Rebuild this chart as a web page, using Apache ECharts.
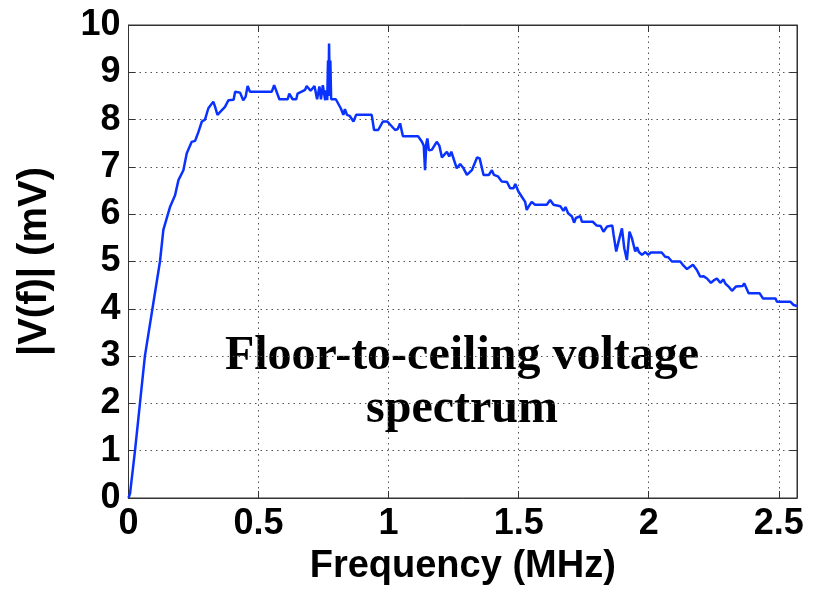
<!DOCTYPE html>
<html>
<head>
<meta charset="utf-8">
<script src="https://cdn.jsdelivr.net/npm/echarts@6/dist/echarts.min.js"></script>
<style>
html,body{margin:0;padding:0;background:#fff;}
#chart{width:825px;height:592px;}
</style>
</head>
<body>
<div id="chart"></div>
<script>
// Frequency (MHz)
const freq = [0,0.006,0.025,0.044,0.063,0.092,0.121,0.134,0.16,0.179,0.192,0.211,0.224,0.243,0.256,0.269,0.282,0.294,0.307,0.326,0.333,0.342,0.359,0.371,0.384,0.404,0.41,0.429,0.441,0.45,0.458,0.467,0.551,0.56,0.567,0.58,0.612,0.618,0.631,0.645,0.65,0.679,0.685,0.70,0.715,0.725,0.734,0.74,0.747,0.756,0.760,0.764,0.767,0.769,0.771,0.774,0.776,0.779,0.797,0.816,0.826,0.832,0.84,0.85,0.865,0.875,0.935,0.944,0.96,0.978,0.995,1.025,1.035,1.044,1.055,1.113,1.128,1.135,1.14,1.145,1.149,1.155,1.166,1.185,1.195,1.205,1.224,1.233,1.241,1.262,1.275,1.288,1.301,1.32,1.34,1.35,1.365,1.385,1.397,1.405,1.42,1.435,1.455,1.467,1.48,1.487,1.499,1.512,1.525,1.531,1.538,1.55,1.557,1.563,1.608,1.621,1.634,1.66,1.672,1.68,1.69,1.705,1.713,1.72,1.737,1.743,1.785,1.80,1.815,1.826,1.84,1.86,1.865,1.875,1.884,1.897,1.906,1.916,1.926,1.935,1.948,1.955,1.962,1.974,1.987,1.998,2.008,2.05,2.063,2.075,2.089,2.121,2.131,2.147,2.17,2.185,2.198,2.21,2.224,2.239,2.25,2.262,2.275,2.287,2.295,2.307,2.32,2.335,2.361,2.367,2.384,2.426,2.439,2.487,2.493,2.544,2.557,2.57];
// |V(f)| (mV)
const volt = [0,0.1,1.0,2.0,3.0,4.0,5.0,5.67,6.16,6.4,6.72,6.93,7.29,7.53,7.55,7.74,7.96,8.0,8.24,8.38,8.27,8.10,8.2,8.27,8.41,8.42,8.59,8.57,8.41,8.48,8.71,8.59,8.59,8.73,8.70,8.43,8.43,8.55,8.43,8.43,8.55,8.63,8.71,8.61,8.71,8.43,8.70,8.43,8.73,8.41,8.62,8.41,9.25,8.5,9.61,8.6,9.25,8.43,8.43,8.24,8.10,8.22,8.10,8.08,7.96,8.10,8.10,7.78,7.78,7.96,7.96,7.78,7.80,7.92,7.65,7.65,7.53,7.45,6.93,7.5,7.60,7.35,7.36,7.53,7.45,7.20,7.32,7.22,7.32,6.97,7.06,6.97,6.83,6.93,7.20,7.18,6.83,6.83,6.93,6.83,6.8,6.69,6.68,6.55,6.55,6.64,6.48,6.37,6.26,6.09,6.16,6.26,6.30,6.2,6.2,6.30,6.2,6.17,6.07,6.15,6.02,5.95,5.82,5.92,5.96,5.84,5.84,5.76,5.75,5.63,5.74,5.76,5.56,5.21,5.42,5.70,5.28,5.03,5.63,5.5,5.21,5.3,5.2,5.14,5.2,5.14,5.19,5.19,5.10,5.09,5.0,5.0,4.93,4.84,4.93,4.82,4.68,4.69,4.64,4.55,4.6,4.64,4.55,4.62,4.53,4.47,4.38,4.47,4.48,4.54,4.33,4.33,4.22,4.22,4.15,4.15,4.08,4.06];

const xTickStep = 0.5;
const xMax = 2.57;
const yTickStep = 1;
const yMax = 10;
const annotation = ['Floor-to-ceiling voltage', 'spectrum'];
const xName = 'Frequency (MHz)';
const yName = '|V(f)| (mV)';

const chart = echarts.init(document.getElementById('chart'), null, {renderer: 'canvas'});
const sans = '"Liberation Sans", Arial, sans-serif';
const gridLine = {show: true, lineStyle: {color: '#555', type: [1.5, 4], width: 1}};

chart.setOption({
  animation: false,
  backgroundColor: '#fff',
  grid: {left: 128.5, right: 28, top: 25, bottom: 94, show: true, borderColor: '#333', borderWidth: 1, backgroundColor: 'transparent'},
  xAxis: [{
    type: 'value', min: 0, max: xMax, interval: xTickStep,
    name: xName, nameLocation: 'middle', nameGap: 50,
    nameTextStyle: {fontFamily: sans, fontWeight: 'bold', fontSize: 38, color: '#000'},
    axisLine: {show: true, onZero: false, lineStyle: {color: '#333', width: 1}},
    axisTick: {show: true, inside: true, length: 7, lineStyle: {color: '#333'}},
    axisLabel: {fontFamily: sans, fontWeight: 'bold', fontSize: 36, color: '#000', margin: 8, showMaxLabel: false},
    splitLine: gridLine
  }, {
    type: 'value', min: 0, max: xMax, interval: xTickStep, position: 'top',
    axisLine: {show: true, onZero: false, lineStyle: {color: '#333'}},
    axisTick: {show: true, inside: true, length: 7, lineStyle: {color: '#333'}},
    axisLabel: {show: false}, splitLine: {show: false}
  }],
  yAxis: [{
    type: 'value', min: 0, max: yMax, interval: yTickStep,
    name: yName, nameLocation: 'middle', nameGap: 74,
    nameTextStyle: {fontFamily: sans, fontWeight: 'bold', fontSize: 40, color: '#000'},
    axisLine: {show: true, onZero: false, lineStyle: {color: '#333', width: 1}},
    axisTick: {show: true, inside: true, length: 7, lineStyle: {color: '#333'}},
    axisLabel: {fontFamily: sans, fontWeight: 'bold', fontSize: 36, color: '#000', margin: 8},
    splitLine: gridLine
  }, {
    type: 'value', min: 0, max: yMax, interval: yTickStep, position: 'right',
    axisLine: {show: true, onZero: false, lineStyle: {color: '#333'}},
    axisTick: {show: true, inside: true, length: 7, lineStyle: {color: '#333'}},
    axisLabel: {show: false}, splitLine: {show: false}
  }],
  series: [{
    type: 'line',
    data: freq.map((f, i) => [f, volt[i]]),
    showSymbol: false,
    lineStyle: {color: '#0a32ff', width: 2.5},
    itemStyle: {color: '#0a32ff'},
    clip: true
  }],
  graphic: [{
    type: 'text',
    x: 462, y: 383,
    style: {
      text: annotation.join('\n'),
      font: 'bold 48px "Liberation Serif", "Times New Roman", serif',
      fill: '#000',
      align: 'center',
      verticalAlign: 'middle',
      lineHeight: 53
    }
  }]
});
</script>
</body>
</html>
